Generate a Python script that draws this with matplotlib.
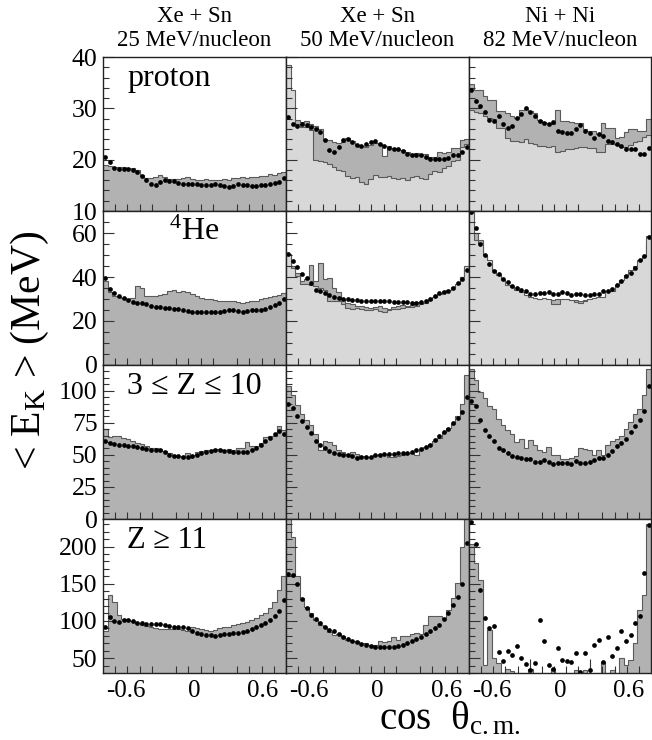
import numpy as np
import matplotlib
matplotlib.use("Agg")
import matplotlib.pyplot as plt
from matplotlib.ticker import MultipleLocator, FixedLocator

plt.rcParams['font.family'] = ['Liberation Serif', 'DejaVu Serif']
plt.rcParams['mathtext.fontset'] = 'custom'
plt.rcParams['mathtext.rm'] = 'Liberation Serif'
plt.rcParams['mathtext.it'] = 'Liberation Serif:italic'

# ---------------- data ----------------
col_titles = ["Xe + Sn\n25 MeV/nucleon", "Xe + Sn\n50 MeV/nucleon", "Ni + Ni\n82 MeV/nucleon"]
row_labels = ["proton", "$^{4}$He", "3 \u2264 Z \u2264 10", "Z \u2265 11"]
row_ylims = [(10, 40), (0, 70), (0, 120), (30, 237)]
row_major = [10, 20, 25, 50]
row_minor = [2, 5, 5, 10]
x_range = (-0.8, 0.8)
x_ticklabels = [-0.6, 0, 0.6]

p25_hist = [18.9, 18.7, 18.6, 18.5, 18.5, 18.4, 18.3, 18.0, 17.0, 16.5, 16.4, 16.6, 17.0, 16.7, 16.3, 16.2, 16.3, 16.5, 16.6, 16.2,
            16.0, 16.1, 16.2, 16.1, 16.1, 16.0, 16.2, 16.0, 16.5, 16.4, 16.6, 16.5, 16.7, 16.6, 16.9, 16.8, 17.2, 17.1, 17.5, 17.6]
p25_dots = [20.5, 19.5, 18.3, 18.2, 18.2, 18.1, 18.0, 17.6, 16.8, 16.0, 15.3, 15.1, 15.7, 16.0, 15.9, 15.8, 15.4, 15.2, 15.2, 15.3,
            15.2, 15.1, 15.0, 15.1, 15.2, 15.1, 14.8, 14.6, 14.9, 15.2, 15.1, 15.0, 14.9, 14.9, 15.0, 15.0, 15.3, 15.4, 15.7, 16.4]

p50_light = [38.5, 33.5, 27.0, 26.3, 26.3, 25.8, 20.0, 19.8, 19.5, 19.2, 18.5, 17.9, 17.8, 16.8, 16.5, 16.7, 15.6, 15.3, 16.2, 17.0,
             16.6, 16.6, 16.8, 16.5, 16.3, 16.4, 16.0, 16.6, 16.9, 16.4, 16.2, 17.2, 17.8, 17.6, 18.3, 18.8, 19.8, 20.0, 22.5, 23.0]
p50_dark = [27.0, 27.5, 27.8, 27.3, 27.6, 27.0, 26.6, 26.0, 24.0, 23.8, 23.4, 23.2, 23.5, 24.2, 23.6, 22.9, 22.6, 22.4, 22.8, 23.3,
            23.0, 20.8, 22.6, 22.3, 22.1, 21.8, 21.5, 21.2, 21.3, 21.0, 21.2, 20.5, 20.6, 21.4, 21.3, 21.5, 22.2, 22.3, 23.8, 24.0]
p50_dots = [28.3, 26.9, 26.6, 27.0, 26.8, 26.3, 25.9, 25.4, 23.8, 21.8, 21.5, 22.5, 23.8, 24.0, 23.4, 22.8, 22.7, 23.0, 23.5, 23.6,
            23.0, 22.7, 22.3, 22.1, 22.0, 21.6, 21.2, 21.0, 21.0, 21.0, 20.5, 20.1, 20.1, 20.2, 20.1, 20.4, 20.9, 21.0, 21.4, 22.4]

p82_light = [29.7, 29.2, 29.0, 28.5, 28.2, 28.0, 26.2, 26.2, 24.3, 23.7, 23.7, 23.5, 24.0, 23.2, 23.0, 22.7, 22.7, 22.5, 22.7, 21.4,
             21.6, 22.1, 22.1, 22.3, 22.4, 22.4, 22.3, 22.2, 21.4, 21.4, 23.0, 23.0, 22.8, 22.4, 22.5, 22.8, 23.5, 23.7, 24.4, 24.8]
p82_dark = [34.7, 33.5, 33.5, 32.5, 31.7, 31.7, 29.5, 29.5, 29.1, 28.6, 28.1, 29.7, 29.8, 29.5, 29.0, 27.8, 27.4, 27.2, 27.0, 29.7,
            27.5, 27.5, 27.3, 27.2, 27.1, 26.0, 25.6, 25.6, 25.0, 27.2, 26.2, 26.2, 24.3, 24.5, 25.3, 25.9, 25.9, 25.6, 25.6, 28.0]
p82_dots = [33.6, 31.5, 30.5, 29.3, 27.8, 27.6, 28.5, 27.0, 26.2, 26.6, 28.2, 28.9, 30.1, 29.3, 28.5, 27.6, 27.2, 27.0, 27.3, 25.6,
            25.4, 25.1, 25.2, 26.0, 26.7, 25.5, 25.2, 24.3, 25.0, 24.6, 23.7, 23.4, 23.0, 22.6, 22.0, 22.1, 22.0, 21.2, 21.2, 22.3]

he25_hist = [38.0, 33.3, 31.5, 31.0, 30.3, 30.2, 30.3, 35.9, 35.0, 31.5, 31.3, 31.4, 31.6, 32.5, 33.5, 34.0, 33.0, 33.6, 33.0, 32.5,
             31.5, 30.5, 30.0, 29.8, 29.5, 29.2, 29.2, 29.0, 29.3, 28.8, 28.4, 28.6, 29.0, 29.0, 30.0, 30.5, 31.0, 31.3, 31.8, 32.6]
he25_dots = [39.5, 34.5, 32.8, 31.5, 30.5, 29.6, 28.7, 28.3, 28.0, 27.6, 26.9, 26.4, 26.2, 25.9, 25.8, 25.6, 25.4, 25.0, 24.4, 23.9,
             23.9, 24.0, 24.0, 24.0, 24.1, 24.3, 24.6, 24.9, 24.8, 24.4, 24.3, 24.5, 24.9, 25.0, 25.0, 25.6, 26.5, 27.1, 28.2, 30.0]

he50_light = [50.5, 44.0, 40.5, 37.0, 37.0, 36.5, 36.0, 35.0, 34.0, 29.0, 29.0, 29.0, 27.5, 26.0, 25.5, 25.8, 25.5, 25.0, 24.8, 25.3,
              24.5, 24.0, 25.0, 25.5, 25.5, 26.0, 26.3, 26.5, 27.0, 27.5, 28.0, 29.5, 31.0, 32.5, 33.5, 34.0, 35.5, 37.0, 40.0, 45.0]
he50_dark = [48.0, 45.0, 42.0, 38.0, 39.0, 45.5, 38.0, 46.5, 39.0, 39.5, 35.0, 33.0, 30.0, 28.0, 27.5, 27.0, 26.8, 26.5, 26.0, 26.5,
             26.8, 26.0, 25.5, 26.5, 27.0, 27.2, 27.0, 27.3, 28.5, 27.8, 28.0, 29.0, 30.5, 32.0, 33.0, 34.0, 35.0, 36.5, 40.0, 44.0]
he50_dots = [50.5, 47.5, 44.5, 41.5, 39.5, 37.5, 34.2, 33.5, 32.6, 31.6, 31.0, 30.4, 30.0, 29.8, 29.5, 29.4, 29.3, 29.2, 29.1, 29.1,
             29.2, 29.0, 28.9, 28.8, 28.7, 28.6, 28.5, 28.4, 28.4, 28.6, 29.0, 30.0, 31.4, 32.8, 33.4, 33.8, 34.8, 37.1, 39.0, 43.0]

he82_light = [69.5, 57.0, 55.5, 50.0, 47.7, 43.0, 41.0, 38.6, 36.4, 35.5, 34.1, 33.0, 32.0, 31.0, 30.5, 30.2, 30.3, 30.0, 27.5, 27.8,
              30.0, 30.0, 29.5, 28.5, 28.0, 29.0, 30.0, 30.3, 31.0, 31.0, 33.5, 33.5, 36.3, 38.5, 41.0, 43.0, 45.0, 47.7, 49.5, 58.5]
he82_dark = [60.0, 60.0, 57.0, 49.0, 46.0, 42.0, 40.0, 38.0, 36.0, 35.0, 33.5, 32.0, 31.0, 30.0, 29.5, 29.5, 29.0, 29.0, 29.5, 29.8,
             29.0, 28.5, 29.0, 29.5, 29.0, 29.5, 29.5, 30.0, 30.3, 30.5, 32.5, 33.0, 35.5, 38.0, 40.0, 42.0, 44.0, 46.0, 48.0, 55.0]
he82_dots = [69.5, 62.4, 55.0, 50.0, 45.8, 42.8, 41.3, 39.2, 37.6, 36.0, 34.9, 34.1, 33.8, 32.4, 32.3, 32.9, 32.9, 33.1, 32.1, 32.4,
             33.2, 32.6, 31.9, 32.2, 32.5, 31.6, 31.7, 32.4, 32.4, 33.6, 33.5, 34.5, 36.2, 38.0, 40.4, 42.0, 44.0, 47.7, 49.5, 58.0]

imf25_hist = [70.0, 64.0, 65.0, 65.0, 63.5, 62.3, 61.0, 59.5, 58.3, 56.8, 55.4, 55.4, 54.3, 53.0, 51.3, 50.0, 49.0, 48.4, 51.6, 50.0,
              52.0, 53.0, 53.5, 54.0, 54.6, 54.3, 53.5, 54.3, 54.0, 55.0, 55.5, 59.9, 57.0, 56.5, 59.5, 64.0, 64.5, 65.0, 72.6, 69.0]
imf25_dots = [61.0, 59.0, 58.2, 58.0, 57.5, 56.8, 56.5, 56.1, 55.5, 54.6, 53.5, 53.8, 53.6, 52.0, 50.2, 49.0, 48.9, 48.0, 48.4, 49.2,
              50.0, 51.2, 52.2, 53.0, 53.5, 53.5, 53.2, 53.0, 52.4, 52.2, 52.2, 52.4, 53.5, 55.5, 58.0, 60.5, 63.0, 66.0, 68.5, 66.0]

imf50_hist = [104, 97, 89, 82, 77.5, 73.0, 66.0, 53.5, 61.0, 60.3, 57.6, 53.5, 52.3, 50.5, 52.4, 50.5, 49.4, 48.7, 48.7, 49.5,
              50.5, 51.0, 48.5, 48.5, 49.0, 49.5, 51.5, 51.5, 49.9, 53.5, 56.0, 58.5, 61.0, 63.5, 68.0, 71.0, 74.0, 80.5, 89.5, 112]
imf50_dots = [89.5, 86.5, 80.5, 76.5, 72.0, 67.0, 61.0, 57.8, 55.5, 53.0, 51.2, 50.3, 49.7, 49.6, 49.0, 47.9, 48.0, 48.4, 48.5, 49.7,
              50.2, 51.0, 51.0, 51.0, 51.3, 51.8, 51.8, 52.3, 53.6, 54.9, 55.9, 57.8, 61.5, 65.0, 68.0, 70.0, 75.0, 79.0, 83.0, 95.0]

imf82_hist = [117, 108, 99, 94, 88, 85.5, 78, 73.5, 69.5, 66.5, 60, 62.5, 55.5, 61.5, 57.5, 54.0, 52.0, 56.0, 50.0, 49.5,
              47.0, 46.5, 47.5, 49.0, 55.0, 54.5, 54.0, 49.5, 53.5, 50.0, 58.0, 61.0, 62.0, 64.5, 70.0, 75.5, 82.0, 85.5, 97.0, 117]
imf82_dots = [92, 88, 77, 69, 65, 60.5, 55.6, 53.5, 51.8, 49.2, 48.0, 47.2, 47.0, 47.0, 44.5, 44.5, 45.7, 44.4, 43.0, 43.5,
              44.0, 43.6, 42.6, 45.0, 43.6, 43.4, 44.3, 46.3, 47.2, 47.3, 49.5, 53.0, 56.6, 58.9, 62.5, 68.0, 72.5, 77.3, 84.5, 104]

hf25_hist = [86, 135, 125, 108, 103, 101.5, 100.5, 97.0, 95.0, 93.0, 91.5, 90.0, 89.5, 89.5, 89.5, 89.8, 89.0, 88.0, 87.0, 92.5,
             90.0, 89.0, 88.0, 87.0, 88.0, 90.0, 92.0, 92.5, 94.5, 96.5, 97.5, 99.0, 101.0, 104.0, 107.5, 111.0, 117.0, 126.0, 142.0, 160.0]
hf25_dots = [92, 105, 100.5, 99, 101, 101, 99.5, 97.5, 97, 96.5, 95.8, 95.2, 95.2, 94.8, 93.5, 92.5, 92.0, 91.4, 90.5, 86.5,
             83.5, 82.0, 81.1, 80.5, 80.0, 80.5, 81.8, 82.4, 83.2, 84.0, 85.0, 87.0, 89.3, 91.3, 94.0, 97.5, 101.5, 107.0, 113.5, 128]

hf50_hist = [245, 213, 160, 131, 119, 110, 101.5, 94.7, 92.5, 85, 81, 82.5, 79.5, 74.6, 72.4, 72.4, 70.0, 70.0, 68.0, 68.0,
             72.4, 72.0, 73.0, 79.0, 74.0, 80.0, 79.5, 83.0, 83.6, 83.0, 94.7, 106, 106, 107, 104, 115, 130.6, 150.7, 200, 240]
hf50_dots = [163, 162, 150, 130, 118, 108, 102.5, 97.5, 92, 88.3, 86, 81.8, 79, 75.7, 72.6, 71.0, 69.2, 68.0, 66.6, 65.6,
             64.8, 64.6, 65.4, 65.6, 66.5, 67.9, 70.0, 72.4, 75.5, 79.0, 82.7, 85.8, 90.0, 94.7, 103, 110.4, 121, 132.8, 149, 205]

hf82_hist = [204, 178, 155, 41, 88, 50, 43, 30, 36, 33, 28, 28, 28, 36, 28, 28, 28, 28, 35, 28,
             28, 28, 28, 34, 28, 34, 28, 28, 28, 45, 28, 34, 28, 50, 41, 48, 70, 115, 135, 230]
hf82_dots = [233, 204, 142, 104, 90, 93, 58, 45.5, 60, 54.5, 66.5, 50, 42.4, 33.4, 43.3, 101.5, 72.4, 41, 35.2, 63,
             47.3, 46.4, 45, 56.7, 32, 56.7, 34.3, 67.8, 74.6, 45, 79, 52.2, 63.1, 85.8, 72.4, 81.3, 97, 106, 164, 229]

# panels: (main histogram [drawn on top], optional second histogram [below], dots, main colour)
DARK = '#b2b2b2'
LIGHT = '#d8d8d8'
panels = [
    [(p25_hist, None, p25_dots, DARK), (p50_light, p50_dark, p50_dots, LIGHT), (p82_light, p82_dark, p82_dots, LIGHT)],
    [(he25_hist, None, he25_dots, DARK), (he50_light, he50_dark, he50_dots, LIGHT), (he82_light, he82_dark, he82_dots, LIGHT)],
    [(imf25_hist, None, imf25_dots, DARK), (imf50_hist, None, imf50_dots, DARK), (imf82_hist, None, imf82_dots, DARK)],
    [(hf25_hist, None, hf25_dots, DARK), (hf50_hist, None, hf50_dots, DARK), (hf82_hist, None, hf82_dots, DARK)],
]

# ---------------- layout ----------------
W, H = 652, 740
fig = plt.figure(figsize=(W / 100, H / 100), dpi=100)
col_px = [103, 286, 469, 651]
row_px = [57, 211, 365, 519, 673]
label_xfrac = [0.36, 0.50, 0.50, 0.35]
label_size = [23, 23, 23, 22]

nb = len(p25_hist)
edges = np.linspace(x_range[0], x_range[1], nb + 1)
centers = 0.5 * (edges[:-1] + edges[1:])
minor_pos = np.linspace(x_range[0], x_range[1], 16)[1:-1]
tall_pos = [minor_pos[4], minor_pos[9]]
short_pos = [p for i, p in enumerate(minor_pos) if i not in (4, 9)]

EDGE = '#5a5a5a'
for r in range(4):
    for c in range(3):
        x0, x1 = col_px[c], col_px[c + 1]
        y0, y1 = row_px[r], row_px[r + 1]
        ax = fig.add_axes([x0 / W, 1 - y1 / H, (x1 - x0) / W, (y1 - y0) / H])
        main, second, dots, colr = panels[r][c]
        if second is not None:
            ax.stairs(second, edges, baseline=-10, fill=True, color=DARK, lw=0)
            ax.stairs(second, edges, baseline=None, color=EDGE, lw=0.8)
        ax.stairs(main, edges, baseline=-10, fill=True, color=colr, lw=0)
        ax.stairs(main, edges, baseline=None, color=EDGE, lw=0.8)
        ax.plot(centers, dots, 'o', ms=3.4, color='black', mec='black', mew=0)
        ax.set_xlim(*x_range)
        ax.set_ylim(*row_ylims[r])
        for s in ax.spines.values():
            s.set_linewidth(1.0)
            s.set_color('#222222')
        # x ticks
        ax.xaxis.set_major_locator(FixedLocator(x_ticklabels))
        ax.xaxis.set_minor_locator(FixedLocator(short_pos))
        ax.tick_params(axis='x', which='major', length=0, pad=5, labelsize=18)
        ax.tick_params(axis='x', which='minor', direction='in', length=5, width=0.8, color='#333333')
        sec = ax.secondary_xaxis('bottom')
        sec.set_xticks(tall_pos)
        sec.tick_params(direction='in', length=10, width=0.8, color='#333333', labelbottom=False)
        sec.spines['bottom'].set_visible(False)
        if r == 3:
            ax.set_xticklabels(['-0.6', '0', '0.6'])
        else:
            ax.tick_params(axis='x', labelbottom=False)
        # y ticks
        ax.yaxis.set_major_locator(MultipleLocator(row_major[r]))
        ax.yaxis.set_minor_locator(MultipleLocator(row_minor[r]))
        ax.tick_params(axis='y', which='major', direction='in', length=8, width=0.8, labelsize=18.5, pad=4, color='#333333')
        ax.tick_params(axis='y', which='minor', direction='in', length=4, width=0.8, color='#333333')
        if c != 0:
            ax.tick_params(axis='y', labelleft=False)
        else:
            if r == 1:
                ax.set_yticks([0, 20, 40, 60])
            if r == 3:
                ax.set_yticks([50, 100, 150, 200])
        if c == 0:
            ax.text(label_xfrac[r], 0.86, row_labels[r], transform=ax.transAxes, ha='center', va='center',
                    fontsize=label_size[r])

# column titles
for c in range(3):
    cx = (col_px[c] + col_px[c + 1]) / 2 / W
    t1, t2 = col_titles[c].split('\n')
    fig.text(cx, 1 - 17 / H, t1, ha='center', va='center', fontsize=16.5)
    fig.text(cx, 1 - 40 / H, t2, ha='center', va='center', fontsize=16.5)

fig.text(30 / W, 1 - 350 / H, r'< E$_{\rm K}$ > (MeV)', rotation=90, ha='center', va='center', fontsize=30)
fig.text(450 / W, 1 - 738 / H, 'cos  \u03b8' + r'$_{\rm c.m.}$', ha='center', va='bottom', fontsize=28)

fig.savefig('out.png', dpi=100)
